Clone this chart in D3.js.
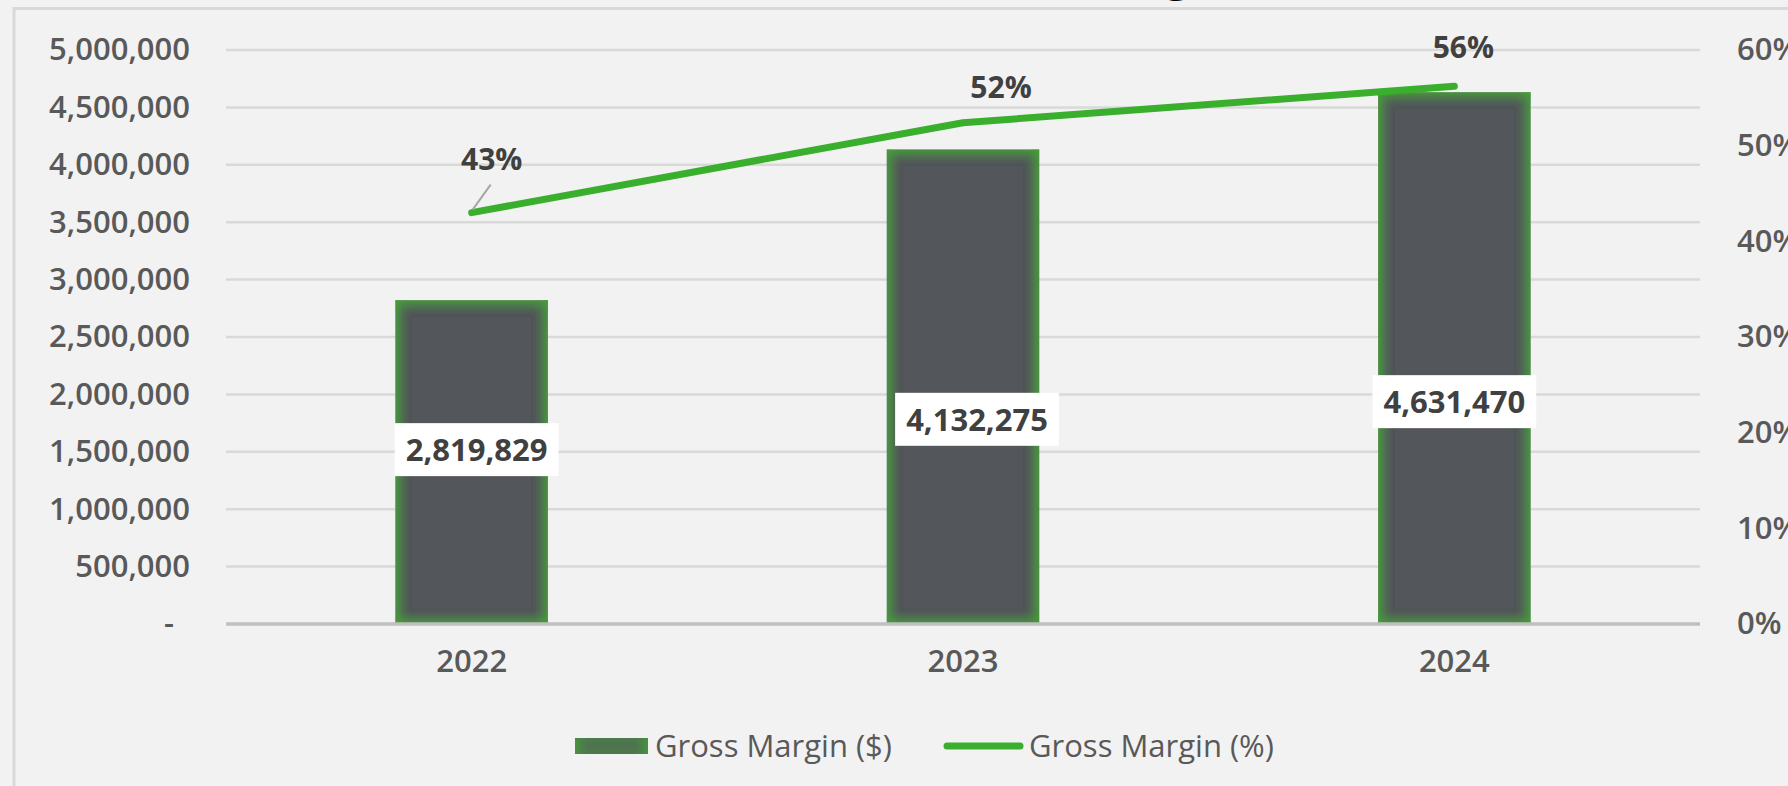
<!DOCTYPE html>
<html>
<head>
<meta charset="utf-8">
<script src="https://cdn.jsdelivr.net/npm/d3@7"></script>
<style>
  html, body { margin: 0; padding: 0; background: #f2f2f2; overflow: hidden; }
  text { font-family: "Open Sans", "Noto Sans", sans-serif; }
</style>
</head>
<body>
<div id="chart"></div>
<script>
const WIDTH = 1788;
const HEIGHT = 786;

// data
const years = ["2022", "2023", "2024"];
const marginDollars = [2819829, 4132275, 4631470];
const marginPct = [0.43, 0.524, 0.562];
const leftTicks = [0, 500000, 1000000, 1500000, 2000000, 2500000, 3000000, 3500000, 4000000, 4500000, 5000000];
const rightTicks = [0, 0.1, 0.2, 0.3, 0.4, 0.5, 0.6];
const legendLabels = ["Gross Margin ($)", "Gross Margin (%)"];
const titleText = "Revenue, Gross Margin";

const PLOT = { left: 226, right: 1700, top: 50, bottom: 624 };
const GREEN = "#3aaf2d";
const GREY_TEXT = "#595959";
const FONT = "31px";

const svg = d3.select("#chart")
  .append("svg")
  .attr("width", WIDTH)
  .attr("height", HEIGHT)
  .attr("viewBox", `0 0 ${WIDTH} ${HEIGHT}`);

// inner green glow for the bars
const defs = svg.append("defs");
const glow = defs.append("filter")
  .attr("id", "glow")
  .attr("x", "-20%").attr("y", "-20%")
  .attr("width", "140%").attr("height", "140%");
glow.append("feFlood").attr("flood-color", "#46a035").attr("result", "flood");
glow.append("feComposite").attr("in", "flood").attr("in2", "SourceAlpha").attr("operator", "out").attr("result", "outside");
glow.append("feGaussianBlur").attr("in", "outside").attr("stdDeviation", 7).attr("result", "blur");
glow.append("feComposite").attr("in", "blur").attr("in2", "SourceAlpha").attr("operator", "in").attr("result", "inner");
const merge = glow.append("feMerge");
merge.append("feMergeNode").attr("in", "SourceGraphic");
merge.append("feMergeNode").attr("in", "inner");
merge.append("feMergeNode").attr("in", "inner");

// chart frame, clipped by the window on the right and bottom
svg.append("rect")
  .attr("x", 14).attr("y", 8.5)
  .attr("width", WIDTH + 40).attr("height", HEIGHT + 40)
  .attr("fill", "#f2f2f2")
  .attr("stroke", "#d9d9d9")
  .attr("stroke-width", 3);

// title, mostly above the top of the picture
svg.append("text")
  .attr("x", (PLOT.left + PLOT.right) / 2)
  .attr("y", -11)
  .attr("text-anchor", "middle")
  .style("font-size", "48px")
  .style("font-weight", 700)
  .attr("fill", "#000")
  .text(titleText);

// Scales
const x = d3.scaleBand()
  .domain(years)
  .range([PLOT.left, PLOT.right])
  .paddingInner(0.69)
  .paddingOuter(0.345);

const y = d3.scaleLinear()
  .domain([0, 5000000])
  .range([PLOT.bottom, PLOT.top]);

const y2 = d3.scaleLinear()
  .domain([0, 0.6])
  .range([PLOT.bottom, PLOT.top]);

// gridlines
svg.append("g")
  .selectAll("line")
  .data(leftTicks.filter(d => d > 0))
  .join("line")
  .attr("x1", PLOT.left)
  .attr("x2", PLOT.right)
  .attr("y1", d => y(d))
  .attr("y2", d => y(d))
  .attr("stroke", "#d9d9d9")
  .attr("stroke-width", 2.5);

// left axis
const leftAxis = svg.append("g")
  .attr("transform", `translate(${PLOT.left}, 0)`)
  .call(d3.axisLeft(y)
    .tickValues(leftTicks)
    .tickSize(0)
    .tickPadding(36)
    .tickFormat(d => d === 0 ? "-" : d3.format(",")(d)));
leftAxis.select(".domain").remove();
leftAxis.selectAll("text")
  .attr("fill", GREY_TEXT)
  .style("font-size", FONT)
  .style("font-weight", 600)
  .attr("dx", d => d === 0 ? -16 : 0);

// right axis
const rightAxis = svg.append("g")
  .attr("transform", `translate(${PLOT.right}, 0)`)
  .call(d3.axisRight(y2)
    .tickValues(rightTicks)
    .tickSize(0)
    .tickFormat(d3.format(".0%")));
rightAxis.select(".domain").remove();
rightAxis.selectAll("text")
  .attr("x", 37)
  .attr("text-anchor", "start")
  .attr("fill", GREY_TEXT)
  .style("font-size", FONT)
  .style("font-weight", 600);

// bars
svg.append("g")
  .selectAll("rect")
  .data(marginDollars)
  .join("rect")
  .attr("x", (d, i) => x(years[i]))
  .attr("y", d => y(d))
  .attr("width", x.bandwidth())
  .attr("height", d => y(0) - y(d))
  .attr("fill", "#53575a")
  .attr("filter", "url(#glow)");

// baseline
svg.append("line")
  .attr("x1", PLOT.left)
  .attr("x2", PLOT.right)
  .attr("y1", y(0))
  .attr("y2", y(0))
  .attr("stroke", "#bfbfbf")
  .attr("stroke-width", 3.5);

// bottom axis
const bottomAxis = svg.append("g")
  .attr("transform", `translate(0, ${PLOT.bottom})`)
  .call(d3.axisBottom(x).tickSize(0).tickPadding(26));
bottomAxis.select(".domain").remove();
bottomAxis.selectAll("text")
  .attr("fill", GREY_TEXT)
  .style("font-size", FONT)
  .style("font-weight", 600);

// bar value labels (moved by hand in the original)
const barLabelShift = [[5, -12], [14, 33], [0, 44]];
const barLabels = svg.append("g")
  .selectAll("g")
  .data(marginDollars)
  .join("g")
  .attr("transform", (d, i) => {
    const cx = x(years[i]) + x.bandwidth() / 2 + barLabelShift[i][0];
    const cy = (y(d) + y(0)) / 2 + barLabelShift[i][1];
    return `translate(${cx}, ${cy})`;
  });

barLabels.append("text")
  .attr("text-anchor", "middle")
  .attr("dy", "0.35em")
  .attr("fill", "#404040")
  .style("font-size", FONT)
  .style("font-weight", 700)
  .text(d => d3.format(",")(d));

barLabels.insert("rect", "text")
  .each(function () {
    const t = d3.select(this.parentNode).select("text").node().getBBox();
    d3.select(this)
      .attr("x", t.x - 11)
      .attr("y", -27)
      .attr("width", t.width + 22)
      .attr("height", 53)
      .attr("fill", "#ffffff");
  });

// margin % line
const line = d3.line()
  .x((d, i) => x(years[i]) + x.bandwidth() / 2)
  .y(d => y2(d));

svg.append("path")
  .datum(marginPct)
  .attr("d", line)
  .attr("fill", "none")
  .attr("stroke", GREEN)
  .attr("stroke-width", 7)
  .attr("stroke-linecap", "round")
  .attr("stroke-linejoin", "round");

// line value labels
const pctLabelShift = [[20, -53], [38, -35], [9, -39]];

// leader line for the first label
svg.append("line")
  .attr("x1", x(years[0]) + x.bandwidth() / 2 + 1)
  .attr("y1", y2(marginPct[0]) - 3)
  .attr("x2", x(years[0]) + x.bandwidth() / 2 + 19)
  .attr("y2", y2(marginPct[0]) - 28)
  .attr("stroke", "#a6a6a6")
  .attr("stroke-width", 2);

svg.append("g")
  .selectAll("text")
  .data(marginPct)
  .join("text")
  .attr("x", (d, i) => x(years[i]) + x.bandwidth() / 2 + pctLabelShift[i][0])
  .attr("y", (d, i) => y2(d) + pctLabelShift[i][1])
  .attr("dy", "0.35em")
  .attr("text-anchor", "middle")
  .attr("fill", "#404040")
  .style("font-size", "30px")
  .style("font-weight", 700)
  .text(d => d3.format(".0%")(d));

// legend
const legend = svg.append("g").attr("transform", "translate(0, 746)");

legend.append("rect")
  .attr("x", 575)
  .attr("y", -8)
  .attr("width", 73)
  .attr("height", 16)
  .attr("fill", "#53575a")
  .attr("filter", "url(#glow)");

legend.append("text")
  .attr("x", 655)
  .attr("dy", "0.35em")
  .attr("fill", GREY_TEXT)
  .style("font-size", FONT)
  .text(legendLabels[0]);

legend.append("line")
  .attr("x1", 947)
  .attr("x2", 1020)
  .attr("stroke", GREEN)
  .attr("stroke-width", 7)
  .attr("stroke-linecap", "round");

legend.append("text")
  .attr("x", 1029)
  .attr("dy", "0.35em")
  .attr("fill", GREY_TEXT)
  .style("font-size", FONT)
  .text(legendLabels[1]);
</script>
</body>
</html>
